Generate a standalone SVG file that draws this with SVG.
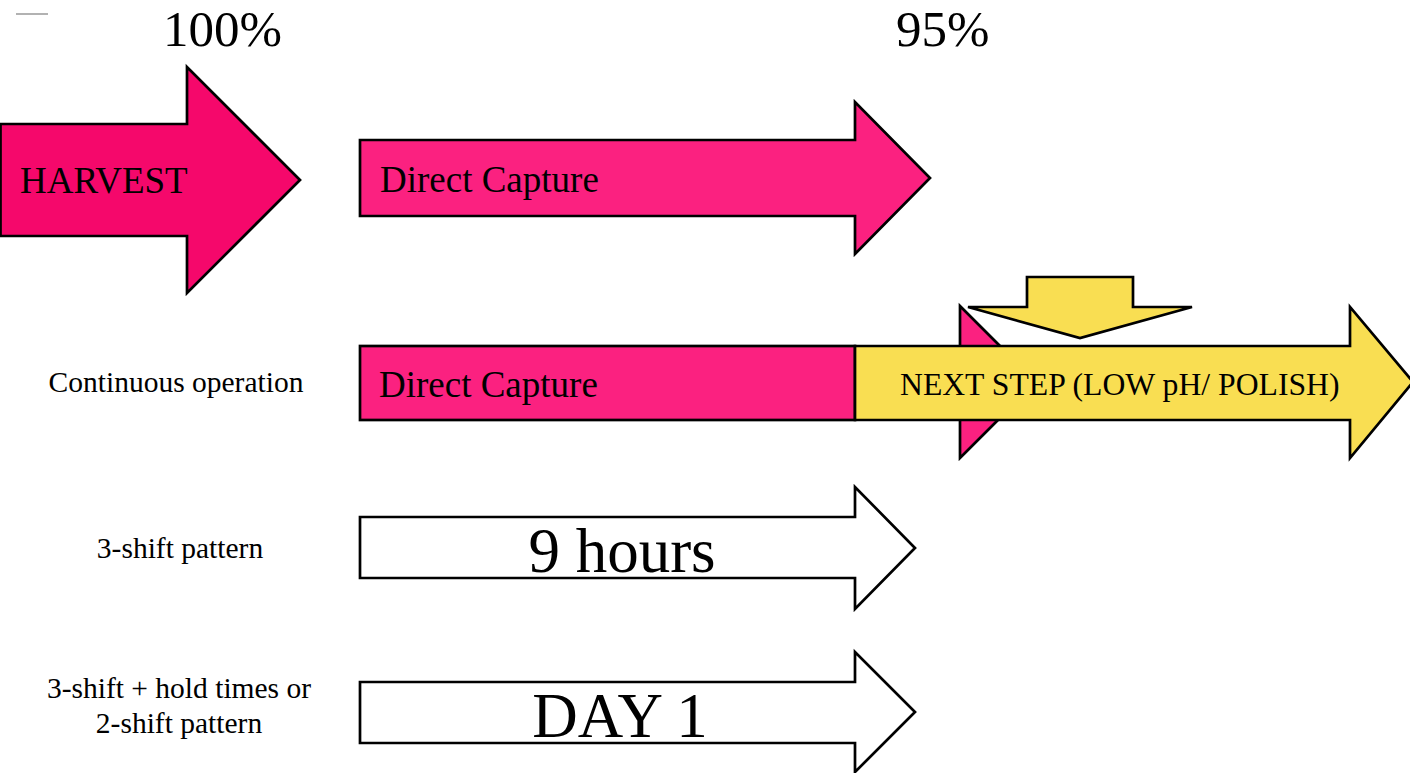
<svg xmlns="http://www.w3.org/2000/svg" width="1410" height="773" viewBox="0 0 1410 773">
<style>
.s{stroke:#000;stroke-width:2.7;stroke-linejoin:miter}
.hv{fill:#F5086B}
.dc{fill:#FB2180}
.ye{fill:#F9DE52}
.wh{fill:#fff}
text{font-family:"Liberation Serif","Times New Roman",serif;fill:#000}
.lbl{font-size:29.5px;text-anchor:middle}
.big{font-size:63px;text-anchor:middle}
.pct{font-size:51px}
.in{font-size:37px}
</style>
<rect width="1410" height="773" fill="#fff"/>
<line x1="16" y1="14" x2="48" y2="14" stroke="#999" stroke-width="1.5"/>
<g id="labels">
<text class="pct" x="163" y="46">100%</text>
<text class="pct" x="896" y="46">95%</text>
<text class="lbl" x="176" y="392">Continuous operation</text>
<text class="lbl" x="180" y="558">3-shift pattern</text>
<text class="lbl" x="179" y="698">3-shift + hold times or</text>
<text class="lbl" x="179" y="733">2-shift pattern</text>
</g>
<g id="connectors"></g>
<g id="harvest">
<polygon class="s hv" points="0.5,124 187,124 187,67 300,180 187,293 187,236 0.5,236"/>
<text class="in" x="20" y="193">HARVEST</text>
</g>
<g id="direct-capture-1">
<polygon class="s dc" points="360,140 855,140 855,102 930,178 855,254 855,216 360,216"/>
<text class="in" x="380" y="192">Direct Capture</text>
</g>
<g id="pink-head">
<polygon class="s dc" points="960,306 1036,382 960,458"/>
</g>
<g id="direct-capture-2">
<rect class="s dc" x="360" y="346" width="495" height="74"/>
<text class="in" x="379" y="397">Direct Capture</text>
</g>
<g id="next-step">
<polygon class="s ye" points="855,346 1350,346 1350,307 1413,382 1350,458 1350,420 855,420"/>
<text x="900" y="395" font-size="31.7">NEXT STEP (LOW pH/ POLISH)</text>
</g>
<g id="down-arrow">
<polygon class="s ye" points="1027,277 1133,277 1133,307 1192,307 1080,338 968,307 1027,307"/>
</g>
<g id="nine-hours">
<polygon class="s wh" points="360,517 855,517 855,487 915,548 855,609 855,578 360,578"/>
<text class="big" x="622" y="572">9 hours</text>
</g>
<g id="day1">
<polygon class="s wh" points="360,682 855,682 855,652 915,712 855,772 855,743 360,743"/>
<text class="big" x="620" y="737">DAY 1</text>
</g>
</svg>
